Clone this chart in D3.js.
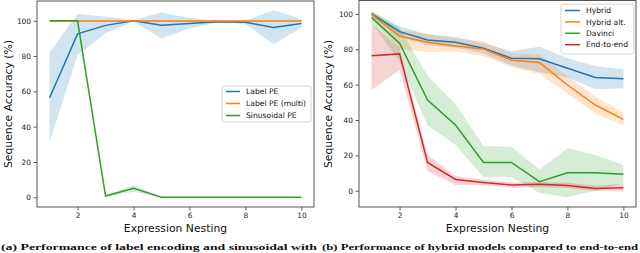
<!DOCTYPE html>
<html><head><meta charset="utf-8">
<script src="https://cdn.jsdelivr.net/npm/d3@7"></script>
<style>body{margin:0;background:#fff}svg{display:block}text{font-family:"DejaVu Sans",sans-serif}</style>
</head><body>
<svg id="c" width="640" height="253"></svg>
<script>
const nesting = [1,2,3,4,5,6,7,8,9,10];
const xTicks = [2,4,6,8,10];
const yTicks = [0,20,40,60,80,100];

// Left panel
const labelPE      = [56.4, 92.6, 97.4, 100, 97.4, 98.5, 99.5, 99.2, 96.2, 98.4];
const labelPELo    = [31.5, 80.6, 92.9, 99.6, 90.0, 95.6, 99.0, 98.2, 86.6, 96.0];
const labelPEHi    = [82.0, 103.8, 102.3, 100.4, 104.7, 101.5, 100.0, 100.2, 106.0, 101.0];
const labelMulti   = [99.8, 99.8, 99.8, 99.8, 99.8, 99.8, 99.8, 99.8, 99.8, 99.8];
const labelMultiLo = [99.5, 99.5, 99.5, 99.5, 99.5, 99.5, 99.5, 99.5, 99.5, 99.5];
const labelMultiHi = [100.1, 100.1, 100.1, 100.1, 100.1, 100.1, 100.1, 100.1, 100.1, 100.1];
const sinPE        = [100, 100, 0.7, 5.1, 0, 0, 0, 0, 0, 0];
const sinPELo      = [99.8, 99.8, 0.3, 3.2, 0, 0, 0, 0, 0, 0];
const sinPEHi      = [100.2, 100.2, 1.1, 7.0, 0.2, 0.2, 0.2, 0.2, 0.2, 0.2];

// Right panel
const hybrid      = [100, 90.0, 85.3, 84.0, 80.6, 74.9, 74.7, 69.3, 64.0, 63.4];
const hybridLo    = [98.5, 87.0, 82.3, 81.0, 77.6, 70.9, 67.0, 64.0, 57.4, 58.0];
const hybridHi    = [101.5, 93.0, 88.3, 87.0, 83.6, 78.9, 81.5, 75.0, 70.6, 68.7];
const hybridAlt   = [99.8, 87.5, 84.0, 81.9, 80.2, 73.8, 72.5, 59.8, 48.5, 40.4];
const hybridAltLo = [98.0, 80.0, 78.5, 78.7, 76.2, 69.8, 66.0, 54.8, 43.5, 37.0];
const hybridAltHi = [101.6, 91.0, 89.0, 86.0, 84.2, 77.8, 77.0, 64.8, 53.5, 44.0];
const davinci     = [97.9, 83.4, 51.3, 37.2, 16.0, 16.0, 5.1, 10.2, 10.2, 9.3];
const davinciLo   = [95.0, 73.0, 37.0, 25.9, 7.6, 7.8, -1.1, -3.7, 0.0, 4.2];
const davinciHi   = [101.0, 92.0, 65.0, 49.0, 25.3, 24.9, 12.1, 24.0, 20.2, 14.5];
const endToEnd    = [76.4, 77.4, 16.0, 6.4, 4.7, 3.2, 3.6, 3.0, 1.3, 1.7];
const endToEndLo  = [57.0, 68.3, 11.1, 3.2, 3.2, 1.7, 2.1, 1.5, -0.2, -0.5];
const endToEndHi  = [94.7, 80.6, 20.2, 8.3, 6.2, 4.7, 5.1, 4.5, 2.8, 4.0];

const xLabel = "Expression Nesting";
const yLabel = "Sequence Accuracy (%)";
const captionA = "(a) Performance of label encoding and sinusoidal with";
const captionB = "(b) Performance of hybrid models compared to end-to-end";

const colors = {blue:"#1f77b4", orange:"#ff7f0e", green:"#2ca02c", red:"#d62728"};

const svg = d3.select("#c");

function panel(cfg){
  const g = svg.append("g");
  const x = d3.scaleLinear().domain([0.55,10.45]).range([cfg.left, cfg.right]);
  const y = d3.scaleLinear().domain(cfg.ydom).range([cfg.bottom, cfg.top]);
  const area = d3.area().x((d,i)=>x(nesting[i])).y0(d=>y(d[0])).y1(d=>y(d[1]));
  const line = d3.line().x((d,i)=>x(nesting[i])).y(d=>y(d));
  const clipId = "clip"+cfg.id;
  g.append("clipPath").attr("id",clipId).append("rect")
    .attr("x",cfg.left).attr("y",cfg.top).attr("width",cfg.right-cfg.left).attr("height",cfg.bottom-cfg.top);
  const plot = g.append("g").attr("clip-path",`url(#${clipId})`);
  cfg.series.forEach(s=>{
    plot.append("path").datum(s.lo.map((v,i)=>[v,s.hi[i]]))
      .attr("d",area).attr("fill",s.color).attr("fill-opacity",0.2).attr("stroke","none");
  });
  cfg.series.forEach(s=>{
    plot.append("path").datum(s.v).attr("d",line).attr("fill","none")
      .attr("stroke",s.color).attr("stroke-width",1.5);
  });
  const xa = g.append("g").attr("transform",`translate(0,${cfg.bottom})`)
    .call(d3.axisBottom(x).tickValues(xTicks).tickSize(3.5).tickPadding(2.5));
  const ya = g.append("g").attr("transform",`translate(${cfg.left},0)`)
    .call(d3.axisLeft(y).tickValues(yTicks).tickSize(3.5).tickPadding(2.5));
  [xa,ya].forEach(a=>{
    a.select(".domain").remove();
    a.selectAll("line").attr("stroke","#333").attr("stroke-width",0.8);
    a.selectAll("text").attr("font-size","7.4px").attr("fill","#222").style("font-family","DejaVu Sans");
  });
  g.append("rect").attr("x",cfg.left).attr("y",cfg.top).attr("width",cfg.right-cfg.left).attr("height",cfg.bottom-cfg.top)
    .attr("fill","none").attr("stroke","#444").attr("stroke-width",0.9);
  g.append("text").attr("x",(cfg.left+cfg.right)/2).attr("y",231.5).attr("text-anchor","middle")
    .attr("font-size","10.8px").attr("fill","#111").text(xLabel);
  g.append("text").attr("transform",`translate(${cfg.ylabX},104) rotate(-90)`).attr("text-anchor","middle")
    .attr("font-size","10.8px").attr("fill","#111").text(yLabel);
  const L = cfg.legend;
  const lg = g.append("g");
  lg.append("rect").attr("x",L.x).attr("y",L.y).attr("width",L.w).attr("height",L.h).attr("rx",2)
    .attr("fill","#fff").attr("fill-opacity",0.8).attr("stroke","#ccc").attr("stroke-width",0.8);
  cfg.series.forEach((s,i)=>{
    const yy = L.y + L.first + i*L.step;
    lg.append("line").attr("x1",L.x+4).attr("x2",L.x+4+L.hw).attr("y1",yy).attr("y2",yy)
      .attr("stroke",s.color).attr("stroke-width",1.5);
    lg.append("text").attr("x",L.x+L.hw+10).attr("y",yy).attr("dy","0.35em")
      .attr("font-size","7.6px").attr("fill","#111").text(s.name);
  });
}

panel({id:"a", left:37, right:314, top:1, bottom:207, ydom:[-5.5,111.2], ylabX:12,
  legend:{x:222, y:86, w:89, h:36, first:5.5, step:12, hw:14},
  series:[
    {name:"Label PE", v:labelPE, lo:labelPELo, hi:labelPEHi, color:colors.blue},
    {name:"Label PE (multi)", v:labelMulti, lo:labelMultiLo, hi:labelMultiHi, color:colors.orange},
    {name:"Sinusoidal PE", v:sinPE, lo:sinPELo, hi:sinPEHi, color:colors.green}
  ]});

panel({id:"b", left:359, right:636, top:0.5, bottom:207, ydom:[-9.2,107.6], ylabX:332,
  legend:{x:561, y:4, w:73, h:50, first:6.5, step:11.4, hw:15},
  series:[
    {name:"Hybrid", v:hybrid, lo:hybridLo, hi:hybridHi, color:colors.blue},
    {name:"Hybrid alt.", v:hybridAlt, lo:hybridAltLo, hi:hybridAltHi, color:colors.orange},
    {name:"Davinci", v:davinci, lo:davinciLo, hi:davinciHi, color:colors.green},
    {name:"End-to-end", v:endToEnd, lo:endToEndLo, hi:endToEndHi, color:colors.red}
  ]});

// captions along the bottom edge
svg.append("text").attr("x",1).attr("y",250).attr("font-size","9px").attr("font-weight","bold").attr("fill","#111")
  .style("font-family","Liberation Serif").attr("textLength",316).attr("lengthAdjust","spacingAndGlyphs").text(captionA);
svg.append("text").attr("x",322).attr("y",250).attr("font-size","9px").attr("font-weight","bold").attr("fill","#111")
  .style("font-family","Liberation Serif").attr("textLength",316).attr("lengthAdjust","spacingAndGlyphs").text(captionB);
</script>
</body></html>
